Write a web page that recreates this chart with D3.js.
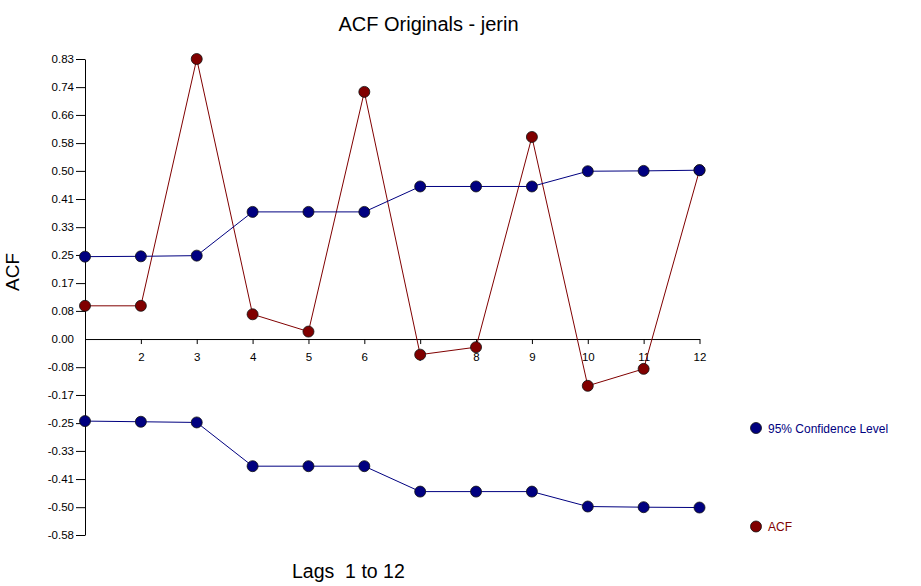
<!DOCTYPE html>
<html>
<head>
<meta charset="utf-8">
<script src="https://cdn.jsdelivr.net/npm/d3@7"></script>
<style>
  body { margin: 0; background: #fff; }
  text { font-family: "Liberation Sans", Arial, sans-serif; }
</style>
</head>
<body>
<script>
var width = 921,
    height = 586;

// lags 1..12
var lags = [1, 2, 3, 4, 5, 6, 7, 8, 9, 10, 11, 12];
var acf = [0.098, 0.098, 0.826, 0.073, 0.022, 0.729, -0.046, -0.024, 0.596, -0.138, -0.088, 0.498];
var ciUpper = [0.243, 0.244, 0.246, 0.375, 0.375, 0.375, 0.450, 0.450, 0.450, 0.495, 0.496, 0.498];
var ciLower = [-0.242, -0.244, -0.246, -0.375, -0.375, -0.375, -0.450, -0.450, -0.450, -0.494, -0.496, -0.497];

// y ticks are tenths of the largest ACF value
var yTicks = [0.826, 0.743, 0.661, 0.578, 0.496, 0.413, 0.330, 0.248, 0.165, 0.083, 0,
              -0.083, -0.165, -0.248, -0.330, -0.413, -0.496, -0.578];
var xTicks = [2, 3, 4, 5, 6, 7, 8, 9, 10, 11, 12];

var blue = "#000080",
    red = "#800000";

var svg = d3.select("body").append("svg")
    .attr("width", width)
    .attr("height", height);

var x = d3.scaleLinear()
    .domain([1, 12])
    .range([85, 699.5]);

var y = d3.scaleLinear()
    .domain([-0.578, 0.826])
    .range([535, 59]);

// y axis
var yAxis = svg.append("g")
    .attr("transform", "translate(" + x(1) + ",0)")
    .call(d3.axisLeft(y)
      .tickValues(yTicks)
      .tickSize(9)
      .tickSizeOuter(0)
      .tickPadding(2)
      .tickFormat(function(d) { return d.toFixed(2); }));
yAxis.selectAll("text").style("font-size", "11.5px").attr("fill", "#000");
yAxis.selectAll(".tick").filter(function(d) { return d === 0; }).select("line").remove();
yAxis.selectAll("line, path").attr("stroke", "#000");

// x axis along zero
var xAxis = svg.append("g")
    .attr("transform", "translate(0," + y(0) + ")")
    .call(d3.axisBottom(x)
      .tickValues(xTicks)
      .tickSize(5)
      .tickSizeOuter(0)
      .tickPadding(9)
      .tickFormat(d3.format("d")));
xAxis.selectAll("text").style("font-size", "11.5px").attr("fill", "#000");
xAxis.selectAll("line, path").attr("stroke", "#000");

var line = d3.line()
    .x(function(d) { return x(d[0]); })
    .y(function(d) { return y(d[1]); });

function series(values, color) {
  var pts = lags.map(function(l, i) { return [l, values[i]]; });
  svg.append("path")
      .datum(pts)
      .attr("fill", "none")
      .attr("stroke", color)
      .attr("stroke-width", 1)
      .attr("d", line);
  svg.append("g").selectAll("circle")
      .data(pts)
    .enter().append("circle")
      .attr("cx", function(d) { return x(d[0]); })
      .attr("cy", function(d) { return y(d[1]); })
      .attr("r", 5.5)
      .attr("fill", color)
      .attr("stroke", "#111")
      .attr("stroke-width", 0.8);
}

series(acf, red);
series(ciUpper, blue);
series(ciLower, blue);

// titles
svg.append("text")
    .attr("x", 428.5)
    .attr("y", 31)
    .attr("text-anchor", "middle")
    .style("font-size", "20px")
    .text("ACF Originals - jerin");

svg.append("text")
    .attr("transform", "translate(19,272) rotate(-90)")
    .attr("text-anchor", "middle")
    .style("font-size", "19px")
    .text("ACF");

svg.append("text")
    .attr("x", 292)
    .attr("y", 578)
    .attr("xml:space", "preserve")
    .style("white-space", "pre")
    .style("font-size", "19.5px")
    .text("Lags  1 to 12");

// legend
var legend = svg.selectAll(".legend")
    .data([["95% Confidence Level", blue, 428], ["ACF", red, 526.5]])
  .enter().append("g")
    .attr("transform", function(d) { return "translate(756," + d[2] + ")"; });

legend.append("circle")
    .attr("r", 5.5)
    .attr("fill", function(d) { return d[1]; })
    .attr("stroke", "#111")
    .attr("stroke-width", 0.8);

legend.append("text")
    .attr("x", 12)
    .attr("y", 4.5)
    .style("font-size", "12px")
    .attr("fill", function(d) { return d[1]; })
    .text(function(d) { return d[0]; });
</script>
</body>
</html>
